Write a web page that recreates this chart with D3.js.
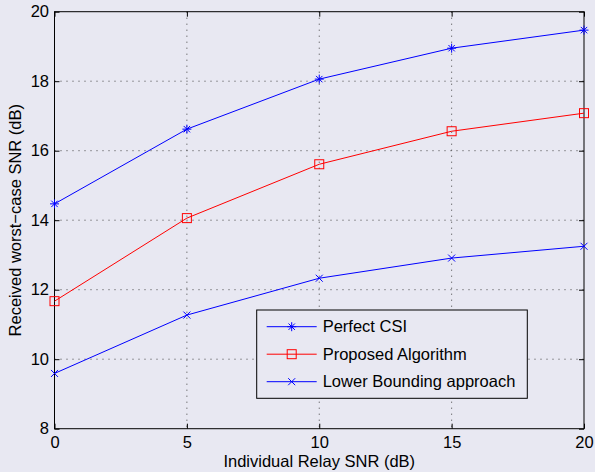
<!DOCTYPE html>
<html>
<head>
<meta charset="utf-8">
<script src="https://cdn.jsdelivr.net/npm/d3@7"></script>
<style>
body { margin: 0; background: #e8e8f2; }
svg { display: block; font-family: "Liberation Sans", Arial, sans-serif; }
</style>
</head>
<body>
<svg id="chart" width="595" height="472"></svg>
<script>
var snr_x = [0, 5, 10, 15, 20];
var perfect_csi = [14.47, 16.62, 18.06, 18.95, 19.47];
var proposed = [11.67, 14.06, 15.61, 16.56, 17.08];
var lower_bound = [9.59, 11.27, 12.33, 12.91, 13.25];
var x_ticks = [0, 5, 10, 15, 20];
var y_ticks = [8, 10, 12, 14, 16, 18, 20];
var series_names = ["Perfect CSI", "Proposed Algorithm", "Lower Bounding approach"];

var svg = d3.select("#chart");
var plot_left = 54.5, plot_right = 584, plot_top = 11.7, plot_bottom = 428.7;
var font_size = 16.5;

var x = d3.scaleLinear().domain([0, 20]).range([plot_left, plot_right]);
var y = d3.scaleLinear().domain([8, 20]).range([plot_bottom, plot_top]);

// grid
var grid = svg.append("g").attr("stroke", "#444").attr("stroke-width", 1).attr("stroke-dasharray", "1,5");
x_ticks.slice(1, -1).forEach(function (t) {
    grid.append("line").attr("x1", x(t)).attr("x2", x(t)).attr("y1", plot_top).attr("y2", plot_bottom);
});
y_ticks.slice(1, -1).forEach(function (t) {
    grid.append("line").attr("x1", plot_left).attr("x2", plot_right).attr("y1", y(t)).attr("y2", y(t));
});

// axes with inward ticks on all sides
function axis_style(g) {
    g.select(".domain").remove();
    g.selectAll(".tick line").attr("stroke", "#000");
    g.selectAll(".tick text").attr("font-size", font_size).attr("fill", "#000");
}
svg.append("g").attr("transform", "translate(0," + plot_bottom + ")")
    .call(d3.axisBottom(x).tickValues(x_ticks).tickSize(-5).tickPadding(8).tickFormat(d3.format("d")))
    .call(axis_style);
svg.append("g").attr("transform", "translate(0," + plot_top + ")")
    .call(d3.axisTop(x).tickValues(x_ticks).tickSize(-5).tickFormat(""))
    .call(axis_style);
svg.append("g").attr("transform", "translate(" + plot_left + ",0)")
    .call(d3.axisLeft(y).tickValues(y_ticks).tickSize(-5).tickPadding(5.5).tickFormat(d3.format("d")))
    .call(axis_style);
svg.append("g").attr("transform", "translate(" + plot_right + ",0)")
    .call(d3.axisRight(y).tickValues(y_ticks).tickSize(-5).tickFormat(""))
    .call(axis_style);

svg.append("rect").attr("x", plot_left).attr("y", plot_top)
    .attr("width", plot_right - plot_left).attr("height", plot_bottom - plot_top)
    .attr("fill", "none").attr("stroke", "#000").attr("stroke-width", 1);

// markers
function draw_marker(g, kind, cx, cy, color) {
    if (kind == "star") {
        var s = 4.5;
        g.append("path").attr("d", "M" + (cx - s) + "," + cy + "H" + (cx + s) +
            "M" + cx + "," + (cy - s) + "V" + (cy + s) +
            "M" + (cx - 3.2) + "," + (cy - 3.2) + "L" + (cx + 3.2) + "," + (cy + 3.2) +
            "M" + (cx - 3.2) + "," + (cy + 3.2) + "L" + (cx + 3.2) + "," + (cy - 3.2))
            .attr("stroke", color).attr("fill", "none");
    }
    else if (kind == "square") {
        g.append("rect").attr("x", cx - 4.5).attr("y", cy - 4.5).attr("width", 9).attr("height", 9)
            .attr("stroke", color).attr("fill", "none");
    }
    else {
        var s = 3.5;
        g.append("path").attr("d", "M" + (cx - s) + "," + (cy - s) + "L" + (cx + s) + "," + (cy + s) +
            "M" + (cx - s) + "," + (cy + s) + "L" + (cx + s) + "," + (cy - s))
            .attr("stroke", color).attr("fill", "none");
    }
}

var all_series = [perfect_csi, proposed, lower_bound];
var colors = ["#0000ff", "#ff0000", "#0000ff"];
var kinds = ["star", "square", "cross"];
var line = d3.line().x(function (d, i) { return x(snr_x[i]); }).y(function (d) { return y(d); });

for (var i = 0; i < all_series.length; i++) {
    var g = svg.append("g");
    g.append("path").datum(all_series[i]).attr("d", line)
        .attr("fill", "none").attr("stroke", colors[i]).attr("stroke-width", 1);
    for (var j = 0; j < snr_x.length; j++) {
        draw_marker(g, kinds[i], x(snr_x[j]), y(all_series[i][j]), colors[i]);
    }
}

// legend
var leg = svg.append("g");
leg.append("rect").attr("x", 256.7).attr("y", 310).attr("width", 270.6).attr("height", 88.3)
    .attr("fill", "#e8e8f2").attr("stroke", "#000").attr("stroke-width", 1);
for (var i = 0; i < series_names.length; i++) {
    var ly = 326.7 + i * 27.5;
    leg.append("line").attr("x1", 266.7).attr("x2", 316.7).attr("y1", ly).attr("y2", ly)
        .attr("stroke", colors[i]);
    draw_marker(leg, kinds[i], 291.7, ly, colors[i]);
    leg.append("text").attr("x", 322.7).attr("y", ly).attr("dy", "0.35em")
        .attr("font-size", font_size).text(series_names[i]);
}

// axis labels
svg.append("text").attr("x", (plot_left + plot_right) / 2).attr("y", 467).attr("text-anchor", "middle")
    .attr("font-size", font_size).text("Individual Relay SNR (dB)");
svg.append("text").attr("transform", "translate(20.5," + ((plot_top + plot_bottom) / 2) + ") rotate(-90)")
    .attr("text-anchor", "middle").attr("font-size", font_size).text("Received worst\u2212case SNR (dB)");
</script>
</body>
</html>
